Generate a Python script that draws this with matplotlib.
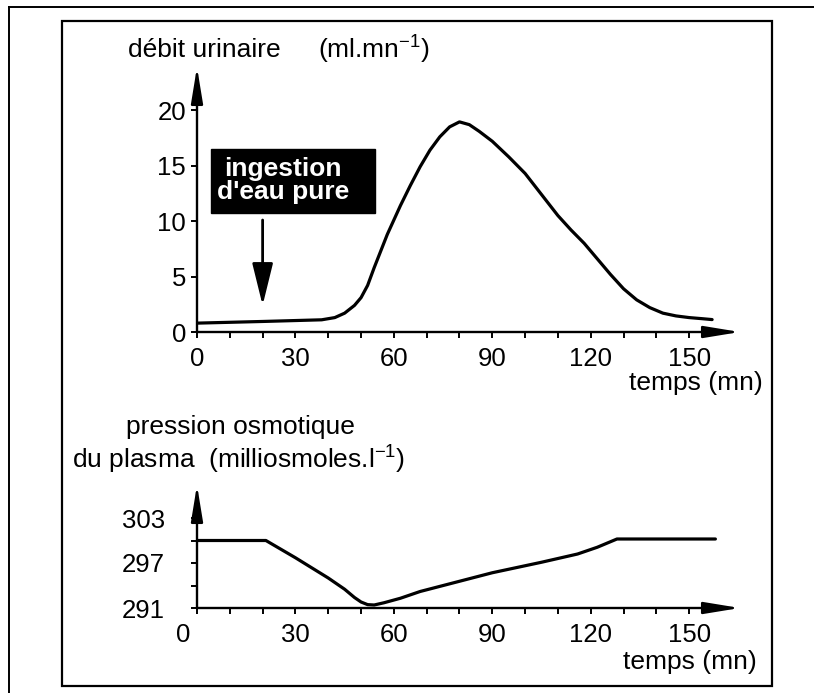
import matplotlib
matplotlib.use("Agg")
import matplotlib.pyplot as plt
from matplotlib.patches import Rectangle
from matplotlib.lines import Line2D
from matplotlib.ticker import FixedLocator

plt.rcParams.update({
    "font.family": ["Liberation Sans", "DejaVu Sans"],
    "mathtext.fontset": "custom",
    "mathtext.rm": "Liberation Sans",
    "mathtext.default": "regular",
})

# urinary flow (ml/mn) vs time (mn)
t_debit = [0, 20, 38, 42, 45, 48, 50, 52, 54, 56, 58, 60, 62, 65, 68, 71,
           74, 77, 80, 83, 86, 90, 95, 100, 105, 110, 114, 118, 122, 126,
           130, 134, 138, 142, 146, 150, 154, 157]
debit = [0.8, 0.95, 1.1, 1.3, 1.7, 2.4, 3.1, 4.2, 5.8, 7.3, 8.8, 10.1, 11.4,
         13.2, 14.9, 16.4, 17.6, 18.5, 18.95, 18.7, 18.1, 17.2, 15.8, 14.3,
         12.4, 10.5, 9.2, 8.0, 6.6, 5.2, 3.9, 2.9, 2.2, 1.7, 1.45, 1.3, 1.2,
         1.12]

# plasma osmotic pressure (milliosmoles/l) vs time (mn)
t_osmo = [0, 21, 30, 40, 45, 48, 50, 52, 54, 57, 62, 68, 90, 105, 116, 122,
          128, 158]
osmo = [300, 300, 297.7, 295.0, 293.5, 292.4, 291.8, 291.45, 291.4, 291.7,
        292.3, 293.2, 295.7, 297.1, 298.2, 299.1, 300.2, 300.2]

ingestion_t = 20
x_major = [0, 30, 60, 90, 120, 150]
x_minor = [10, 20, 40, 50, 70, 80, 100, 110, 130, 140]

W, H = 814, 693
fig = plt.figure(figsize=(W / 100, H / 100), dpi=100)

def fx(px):
    return px / W

def fy(py):
    return 1 - py / H

# frames around the document
fig.add_artist(Line2D([fx(9), fx(9)], [0, fy(7)], color="black", lw=1.4))
fig.add_artist(Line2D([fx(9), 1], [fy(7), fy(7)], color="black", lw=1.4))
fig.add_artist(Rectangle((fx(62), fy(686)), fx(772) - fx(62), fy(21) - fy(686),
                         fill=False, edgecolor="black", lw=1.6))

ax1 = fig.add_axes([fx(197), fy(332), fx(740) - fx(197), fy(67) - fy(332)])
ax2 = fig.add_axes([fx(197), fy(608), fx(740) - fx(197), fy(485) - fy(608)])

arrow_kw = dict(arrowstyle="-|>,head_length=1.1,head_width=0.18",
                color="black", lw=1.7, mutation_scale=20, shrinkA=0, shrinkB=0)

for ax in (ax1, ax2):
    for s in ax.spines.values():
        s.set_visible(False)
    ax.set_xlim(0, 165.5)
    ax.annotate("", xy=(1, 0), xytext=(0, 0), xycoords="axes fraction",
                arrowprops=arrow_kw, annotation_clip=False)
    ax.annotate("", xy=(0, 1), xytext=(0, 0), xycoords="axes fraction",
                arrowprops=arrow_kw, annotation_clip=False)
    ax.xaxis.set_major_locator(FixedLocator(x_major))
    ax.xaxis.set_minor_locator(FixedLocator(x_minor))
    ax.tick_params(axis="x", which="both", direction="out", length=4,
                   width=1.4, labelsize=18.5, pad=7)
    ax.tick_params(axis="y", which="both", direction="out", length=4,
                   width=1.4, labelsize=18.5)

# top panel
ax1.set_ylim(0, 23.9)
ax1.plot(t_debit, debit, color="black", lw=2.3, solid_capstyle="round")
ax1.set_yticks([0, 5, 10, 15, 20])
ax1.tick_params(axis="y", pad=4)

ax1.add_patch(Rectangle((4.3, 10.7), 49.8, 5.8, facecolor="black",
                        edgecolor="black"))
ax1.text(26.3, 13.65, "ingestion\nd'eau pure", color="white", fontsize=19,
         fontweight="bold", ha="center", va="center", linespacing=0.95)
ax1.annotate("", xy=(ingestion_t, 2.4), xytext=(ingestion_t, 10.1),
             arrowprops=dict(arrowstyle="-|>,head_length=1.3,head_width=0.32",
                             color="black", lw=2.0, mutation_scale=20,
                             shrinkA=0, shrinkB=0))

# bottom panel
ax2.set_ylim(291, 307.4)
ax2.plot(t_osmo, osmo, color="black", lw=2.3, solid_capstyle="round")
ax2.yaxis.set_major_locator(FixedLocator([291, 297, 303]))
ax2.yaxis.set_minor_locator(FixedLocator([294, 300]))
ax2.tick_params(axis="y", which="major", pad=19)
ax2.set_xticklabels([""] + [str(v) for v in x_major[1:]])
ax2.annotate("0", xy=(0, 0), xycoords="axes fraction", xytext=(-14, -27),
             textcoords="offset pixels", ha="center", va="center",
             fontsize=18.5)

# labels
fs = 19
fig.text(fx(128), fy(50), "débit urinaire", fontsize=fs, ha="left", va="center")
fig.text(fx(318), fy(50), "(ml.mn$^{-1}$)", fontsize=fs, ha="left", va="center")
fig.text(fx(763), fy(383), "temps (mn)", fontsize=fs, ha="right", va="center")
fig.text(fx(126), fy(427), "pression osmotique", fontsize=fs, ha="left",
         va="center")
fig.text(fx(72), fy(460), "du plasma  (milliosmoles.l$^{-1}$)", fontsize=fs,
         ha="left", va="center")
fig.text(fx(757), fy(662), "temps (mn)", fontsize=fs, ha="right", va="center")

fig.savefig("out.png", dpi=100)
